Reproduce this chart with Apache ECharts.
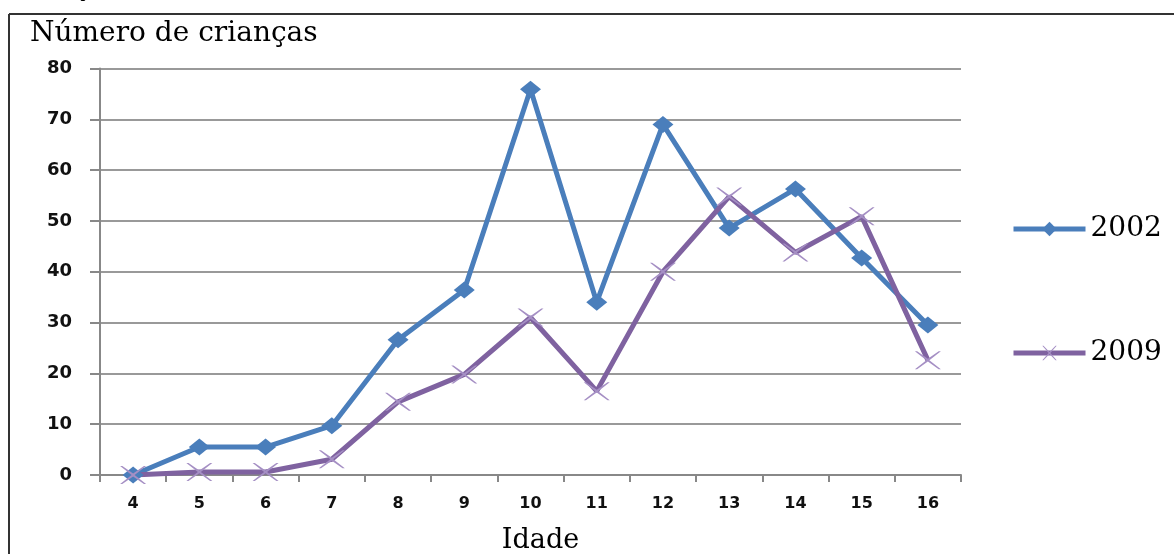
<!DOCTYPE html>
<html>
<head>
<meta charset="utf-8">
<script src="https://cdn.jsdelivr.net/npm/echarts@6/dist/echarts.min.js"></script>
<style>
html,body{margin:0;padding:0;background:#fff;}
#chart{width:1174px;height:554px;}
</style>
</head>
<body>
<div id="chart"></div>
<script>
const categories = ['4','5','6','7','8','9','10','11','12','13','14','15','16'];
const series2002 = [0, 5.5, 5.5, 9.7, 26.6, 36.4, 75.9, 34.0, 69.0, 48.6, 56.3, 42.7, 29.5];
const series2009 = [0, 0.6, 0.6, 3.1, 14.4, 19.8, 31.0, 16.5, 40.0, 54.8, 43.8, 50.9, 22.6];
const yTicks = [0, 10, 20, 30, 40, 50, 60, 70, 80];

const BLUE = '#4A7EBB';
const PURPLE = '#7F62A0';
const crossPath = 'path://M0,0 L2.2,0 L13,7.6 L23.8,0 L26,0 L14.5,9 L26,18 L23.8,18 L13,10.4 L2.2,18 L0,18 L11.5,9 Z';

const chart = echarts.init(document.getElementById('chart'));
const legendText = {fontFamily: 'DejaVu Serif', fontSize: 28, color: '#000'};
chart.setOption({
  animation: false,
  backgroundColor: '#fff',
  grid: {left: 100, right: 213, top: 68.5, bottom: 79, containLabel: false, outerBoundsMode: 'none'},
  legend: [
    {data: ['2002'], orient: 'vertical', left: 1006, top: 210, itemWidth: 72, itemHeight: 18, itemGap: 10,
     textStyle: legendText, lineStyle: {width: 5}},
    {data: ['2009'], orient: 'vertical', left: 1006, top: 334, itemWidth: 72, itemHeight: 18, itemGap: 10,
     textStyle: legendText, lineStyle: {width: 5}}
  ],
  xAxis: {
    type: 'category',
    data: categories,
    boundaryGap: true,
    name: 'Idade',
    nameLocation: 'middle',
    nameGap: 52,
    nameTextStyle: {fontFamily: 'DejaVu Serif', fontSize: 27, color: '#000', padding: [0, 0, 0, 20]},
    axisLine: {lineStyle: {color: '#888', width: 2}},
    axisTick: {show: true, length: 7, lineStyle: {color: '#888', width: 2}},
    axisLabel: {fontFamily: 'DejaVu Sans', fontWeight: 'bold', fontSize: 16, color: '#111', margin: 21}
  },
  yAxis: {
    type: 'value',
    min: yTicks[0],
    max: yTicks[yTicks.length - 1],
    interval: 10,
    axisLine: {show: true, lineStyle: {color: '#888', width: 2}},
    axisTick: {show: true, length: 10, lineStyle: {color: '#888', width: 2}},
    axisLabel: {fontFamily: 'DejaVu Sans', fontWeight: 'bold', fontSize: 18, color: '#111', margin: 28},
    splitLine: {show: true, lineStyle: {color: '#999', width: 2}}
  },
  series: [
    {
      name: '2002',
      type: 'line',
      data: series2002,
      symbol: 'diamond',
      symbolSize: [21, 17],
      lineStyle: {color: BLUE, width: 5},
      itemStyle: {color: BLUE}
    },
    {
      name: '2009',
      type: 'line',
      data: series2009,
      symbol: crossPath,
      symbolSize: [26, 18],
      lineStyle: {color: PURPLE, width: 5},
      itemStyle: {color: '#A58FC4'}
    }
  ],
  graphic: [
    {type: 'line', shape: {x1: 9, y1: 14, x2: 1174, y2: 14}, style: {stroke: '#333', lineWidth: 2}},
    {type: 'line', shape: {x1: 9, y1: 14, x2: 9, y2: 554}, style: {stroke: '#333', lineWidth: 2}},
    {type: 'text', left: 30, top: 20, style: {text: 'Número de crianças', fontFamily: 'DejaVu Serif', fontSize: 28, fill: '#000'}},
    {type: 'text', left: 76, top: -20, style: {text: 'ç', fontFamily: 'DejaVu Sans', fontWeight: 'bold', fontSize: 22, fill: '#000'}}
  ]
});
</script>
</body>
</html>
